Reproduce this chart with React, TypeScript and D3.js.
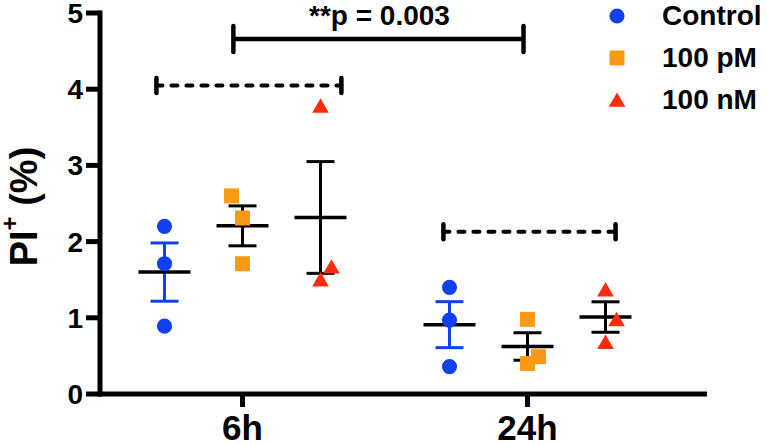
import React from 'react';
import * as d3 from 'd3';

const times = ['6h', '24h'];
const treatments = ['Control', '100 pM', '100 nM'];
const treatmentColors = ['#1040f0', '#fb9a14', '#fc2c0c'];
const yTicks = [0, 1, 2, 3, 4, 5];

// replicate readings, one inner array per time point
const valuesControl = [[2.20, 1.71, 0.89], [1.40, 0.97, 0.36]];
const valuesPM = [[2.60, 2.31, 1.71], [0.98, 0.40, 0.49]];
const valuesNM = [[3.78, 1.67, 1.50], [1.37, 0.98, 0.68]];

// side-by-side nudge of overlapping symbols (in symbol widths)
const jitterControl = [[0, 0, 0], [0, 0, 0]];
const jitterPM = [[-1, 0, 0], [0, 0, 1]];
const jitterNM = [[0, 1, 0], [0, 1, 0]];

// comparison brackets, x in time-index units, y in PI+ %
const bracketFrom = [-0.302, 0.705, -0.032];
const bracketTo = [0.347, 1.309, 0.986];
const bracketY = [4.05, 2.13, 4.66];
const bracketDashed = [true, true, false];
const bracketLabel = ['', '', '**p = 0.003'];

const FONT = '"Liberation Sans", Arial, Helvetica, sans-serif';
const WIDTH = 767, HEIGHT = 445;

const symbolTypes = [d3.symbolCircle, d3.symbolSquare, d3.symbolTriangle];
const symbolSizes = [180, 225, 120];

export default function App() {
    const y = d3.scaleLinear().domain([0, 5]).range([394, 13]);
    const x = d3.scaleLinear().domain([-0.5, 1.5]).range([100, 670]);
    const dx = d3.scalePoint<string>().domain(treatments).range([-78, 78]);
    const xAxisEnd = 1.63;

    const allValues = [valuesControl, valuesPM, valuesNM];
    const allJitter = [jitterControl, jitterPM, jitterNM];

    const groups = times.flatMap((t, ti) => treatments.map((tr, ki) => {
        const vals = allValues[ki][ti];
        const mean = d3.mean(vals) as number;
        const sem = (d3.deviation(vals) as number) / Math.sqrt(vals.length);
        return { t, ti, tr, ki, vals, jit: allJitter[ki][ti], mean, sem, cx: x(ti) + (dx(tr) as number) };
    }));

    const sym = (k: number) => d3.symbol().type(symbolTypes[k]).size(symbolSizes[k])() as string;

    return (
        <svg width={WIDTH} height={HEIGHT} style={{ position: 'absolute', left: 0, top: 0, background: '#fff' }}
            fontFamily={FONT} fontWeight='bold'>
            {/* y axis */}
            <line x1={x(-0.5)} x2={x(-0.5)} y1={y(5) - 2.5} y2={y(0) + 2.5} stroke='#000' strokeWidth={5} />
            {yTicks.map(v => (
                <g key={`yt-${v}`}>
                    <line x1={x(-0.5) - 14} x2={x(-0.5)} y1={y(v)} y2={y(v)} stroke='#000' strokeWidth={5} />
                    <text x={x(-0.5) - 17} y={y(v) + 10} textAnchor='end' fontSize={28}>{v}</text>
                </g>
            ))}
            <text transform={`translate(37,${(y(0) + y(5)) / 2 + 3}) rotate(-90)`} textAnchor='middle' fontSize={38}>
                PI<tspan dy={-19} fontSize={24}>+</tspan><tspan dy={19}> (%)</tspan>
            </text>

            {/* x axis */}
            <line x1={x(-0.5) - 2.5} x2={x(xAxisEnd)} y1={y(0)} y2={y(0)} stroke='#000' strokeWidth={5} />
            {times.map((t, i) => (
                <g key={`xt-${t}`}>
                    <line x1={x(i)} x2={x(i)} y1={y(0)} y2={y(0) + 13} stroke='#000' strokeWidth={5} />
                    <text x={x(i)} y={440} textAnchor='middle' fontSize={35}>{t}</text>
                </g>
            ))}

            {/* error bars and means */}
            {groups.map(g => {
                const c = g.ki === 0 ? treatmentColors[0] : '#000';
                return (
                    <g key={`eb-${g.t}-${g.tr}`}>
                        <line x1={g.cx} x2={g.cx} y1={y(g.mean + g.sem)} y2={y(g.mean - g.sem)} stroke={c} strokeWidth={3} />
                        <line x1={g.cx - 14} x2={g.cx + 14} y1={y(g.mean + g.sem)} y2={y(g.mean + g.sem)} stroke={c} strokeWidth={3} />
                        <line x1={g.cx - 14} x2={g.cx + 14} y1={y(g.mean - g.sem)} y2={y(g.mean - g.sem)} stroke={c} strokeWidth={3} />
                        <line x1={g.cx - 26} x2={g.cx + 26} y1={y(g.mean)} y2={y(g.mean)} stroke='#000' strokeWidth={3.5} />
                    </g>
                );
            })}

            {/* replicate points */}
            {groups.map(g => g.vals.map((v, i) => (
                <path key={`pt-${g.t}-${g.tr}-${i}`} d={sym(g.ki)} fill={treatmentColors[g.ki]}
                    transform={`translate(${g.cx + g.jit[i] * 11},${y(v) + (g.ki === 2 ? 2 : 0)})`} />
            )))}

            {/* brackets */}
            {bracketY.map((b, i) => {
                const x1 = x(bracketFrom[i]), x2 = x(bracketTo[i]), yy = y(b);
                const capH = bracketDashed[i] ? 7.5 : 13;
                return (
                    <g key={`br-${i}`}>
                        <line x1={x1} x2={x2} y1={yy} y2={yy} stroke='#000' strokeWidth={bracketDashed[i] ? 4 : 4.5}
                            strokeDasharray={bracketDashed[i] ? '6 9' : undefined} strokeLinecap={bracketDashed[i] ? 'round' : 'butt'} />
                        <line x1={x1} x2={x1} y1={yy - capH} y2={yy + capH} stroke='#000' strokeWidth={4.5} strokeLinecap='round' />
                        <line x1={x2} x2={x2} y1={yy - capH} y2={yy + capH} stroke='#000' strokeWidth={4.5} strokeLinecap='round' />
                        {bracketLabel[i] && (
                            <text x={(x1 + x2) / 2 + 1} y={yy - 14} textAnchor='middle' fontSize={28}>{bracketLabel[i]}</text>
                        )}
                    </g>
                );
            })}

            {/* legend */}
            {treatments.map((tr, k) => (
                <g key={`lg-${tr}`} transform={`translate(617,${16 + k * 42})`}>
                    <path d={sym(k)} fill={treatmentColors[k]} transform={`translate(0,${k === 2 ? 2 : 0})`} />
                    <text x={45} y={9} fontSize={28}>{tr}</text>
                </g>
            ))}
        </svg>
    );
}
